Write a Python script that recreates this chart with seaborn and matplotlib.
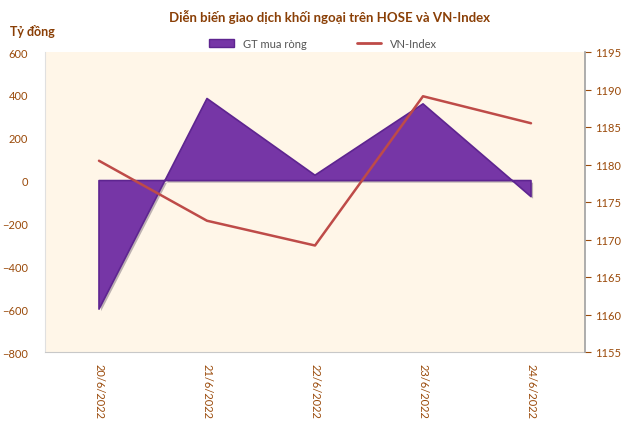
import matplotlib
matplotlib.use("Agg")
import matplotlib.pyplot as plt
import matplotlib.patheffects as pe
import seaborn as sns
import pandas as pd

# data
dates = ["20/6/2022", "21/6/2022", "22/6/2022", "23/6/2022", "24/6/2022"]
gt_mua_rong = [-600, 383, 25, 358, -75]
vn_index = [1180.5, 1172.5, 1169.2, 1189.1, 1185.5]

df = pd.DataFrame({"date": dates, "gt": gt_mua_rong, "vni": vn_index})
df["x"] = range(len(df))

sns.set_style("white")
plt.rcParams["font.family"] = ["Lato", "Noto Sans", "DejaVu Sans"]

brown = "#9A4A0A"
purple = "#7636A6"
red = "#BE4B48"

fig = plt.figure(figsize=(6.4, 4.35), dpi=100)
ax = fig.add_axes([45 / 640, 1 - 353 / 435, 540 / 640, 300 / 435])
ax.set_facecolor("#FFF6E8")

# area series
ax.fill_between(df["x"], 0, df["gt"], color=purple, linewidth=1.2,
                edgecolor="#5E2590", zorder=2,
                path_effects=[pe.withSimplePatchShadow(offset=(1.5, -1.5), alpha=0.3)])
ax.set_xlim(-0.5, 4.5)
ax.set_ylim(-800, 600)
ax.set_yticks(range(-800, 601, 200))
ax.set_xticks(df["x"])
ax.set_xticklabels(df["date"], rotation=270, color=brown, fontsize=8)
ax.tick_params(axis="y", colors=brown, labelsize=8, length=0, pad=12)
ax.tick_params(axis="x", length=0, pad=8)
for s in ax.spines.values():
    s.set_visible(False)
ax.spines["left"].set_visible(True)
ax.spines["left"].set_color("#E0E0E0")
ax.spines["bottom"].set_visible(True)
ax.spines["bottom"].set_color("#C8C8C8")

# VN-Index on the right axis
ax2 = ax.twinx()
sns.lineplot(data=df, x="x", y="vni", ax=ax2, color=red, linewidth=1.8, zorder=3)
ax2.set_ylim(1155, 1195)
ax2.set_yticks(range(1155, 1196, 5))
ax2.set_xlim(-0.5, 4.5)
ax2.set_ylabel("")
ax2.set_xlabel("")
ax.set_xlabel("")
ax2.tick_params(axis="y", colors=brown, labelsize=8, length=4, direction="out",
                pad=3)
for t in ax2.get_yticklines():
    t.set_color("#A0A0A0")
for s in ax2.spines.values():
    s.set_visible(False)
ax2.spines["right"].set_visible(True)
ax2.spines["right"].set_color("#A0A0A0")
ax2.spines["right"].set_linewidth(1.2)

fig.text(0.515, 1 - 17 / 435, "Diễn biến giao dịch khối ngoại trên HOSE và VN-Index",
         ha="center", va="center", fontsize=9.5, fontweight="bold", color="#8A3F06")
fig.text(10 / 640, 1 - 32 / 435, "Tỷ đồng", ha="left", va="center",
         fontsize=9, fontweight="bold", color="#8A3F06")

from matplotlib.patches import Patch
from matplotlib.lines import Line2D
handles = [Patch(facecolor=purple, edgecolor="#5E2590"),
           Line2D([0], [0], color=red, linewidth=2)]
fig.legend(handles, ["GT mua ròng", "VN-Index"], loc="center",
           bbox_to_anchor=(0.505, 1 - 44 / 435), ncol=2, frameon=False,
           fontsize=8, columnspacing=4.5, handlelength=2.2,
           labelcolor="#555555")

fig.savefig("out.png", dpi=100, facecolor="white")
